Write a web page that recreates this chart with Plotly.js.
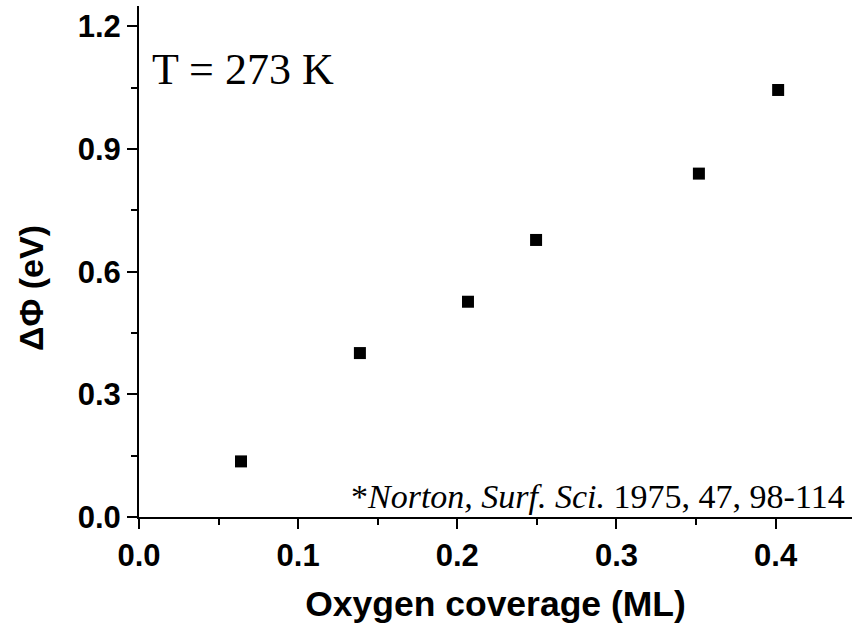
<!DOCTYPE html>
<html>
<head>
<meta charset="utf-8">
<script src="https://cdn.plot.ly/plotly-3.0.1.min.js"></script>
<style>html,body{margin:0;padding:0;background:#fff;}</style>
</head>
<body>
<div id="chart" style="width:852px;height:624px;"></div>
<script>
const coverage = [0.0641, 0.1388, 0.2067, 0.2495, 0.3518, 0.4016];
const deltaPhi = [0.136, 0.401, 0.5266, 0.6777, 0.840, 1.0446];
const xTitle = 'Oxygen coverage (ML)';
const yTitle = 'ΔΦ (eV)';
const tempLabel = 'T = 273 K';
const refLabel = '*<i>Norton, Surf. Sci.</i> 1975, 47, 98-114';

const trace = {
  x: coverage, y: deltaPhi, type: 'scatter', mode: 'markers',
  marker: {symbol: 'square', size: 12, color: '#000'}
};
const axisCommon = {
  showline: true, linecolor: '#000', linewidth: 2,
  ticks: 'outside', ticklen: 10, tickwidth: 2, tickcolor: '#000',
  showgrid: false, zeroline: false, tickformat: '.1f',
  tickfont: {family: 'Liberation Sans, Arial, sans-serif', size: 31, color: '#000', weight: 'bold'}
};
const layout = {
  width: 852, height: 624,
  margin: {l: 139, r: 0, t: 6, b: 107},
  paper_bgcolor: '#fff', plot_bgcolor: '#fff',
  showlegend: false,
  xaxis: Object.assign({}, axisCommon, {
    range: [0, 0.448], dtick: 0.1, tick0: 0,
    minor: {dtick: 0.05, ticks: 'outside', ticklen: 6, tickwidth: 2, tickcolor: '#000'},
    title: {text: '<b>' + xTitle + '</b>', standoff: 22,
      font: {family: 'Liberation Sans, Arial, sans-serif', size: 35.5, color: '#000'}}
  }),
  yaxis: Object.assign({}, axisCommon, {
    range: [0, 1.25], dtick: 0.3, tick0: 0,
    minor: {dtick: 0.15, ticks: 'outside', ticklen: 6, tickwidth: 2, tickcolor: '#000'}
  }),
  annotations: [
    {text: '<b>' + yTitle + '</b>', xref: 'paper', yref: 'paper', x: -0.1515, y: 0.448,
     xanchor: 'center', yanchor: 'middle', textangle: -90, showarrow: false,
     font: {family: 'Liberation Sans, Arial, sans-serif', size: 34, color: '#000'}},
    {text: tempLabel, xref: 'paper', yref: 'paper', x: 0.0154, y: 0.875,
     xanchor: 'left', yanchor: 'middle', showarrow: false,
     font: {family: 'Liberation Serif, Times New Roman, serif', size: 44, color: '#000'}},
    {text: refLabel, xref: 'paper', yref: 'paper', x: 0.993, y: 0.041,
     xanchor: 'right', yanchor: 'middle', showarrow: false,
     font: {family: 'Liberation Serif, Times New Roman, serif', size: 34, color: '#000'}}
  ]
};
Plotly.newPlot('chart', [trace], layout, {displayModeBar: false, staticPlot: true});
</script>
</body>
</html>
